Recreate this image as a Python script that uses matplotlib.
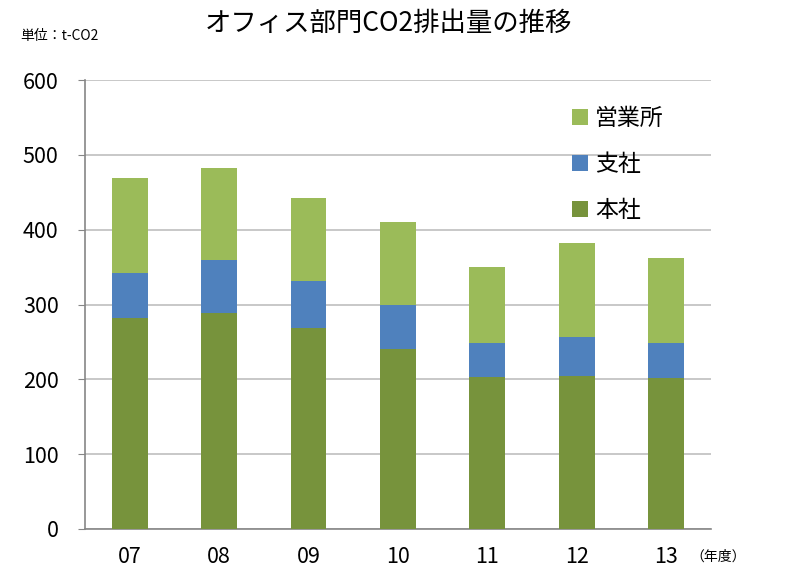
import matplotlib
matplotlib.use('Agg')
import matplotlib.pyplot as plt
import numpy as np

plt.rcParams['font.family'] = ['Noto Sans CJK JP', 'DejaVu Sans']

years = ['07', '08', '09', '10', '11', '12', '13']
honsha = [282, 288, 268, 240, 203, 205, 202]
shisha = [60, 71, 63, 59, 45, 51, 46]
eigyosho = [127, 124, 111, 111, 102, 126, 114]

c_honsha = '#77933c'
c_shisha = '#4f81bd'
c_eigyo = '#9bbb59'

fig = plt.figure(figsize=(7.89, 5.69), dpi=100)
ax = fig.add_axes([0.1077, 0.0703, 0.7933, 0.7891])

x = np.arange(len(years))
w = 0.40
b1 = ax.bar(x, honsha, w, color=c_honsha, label='本社', zorder=3)
b2 = ax.bar(x, shisha, w, bottom=honsha, color=c_shisha, label='支社', zorder=3)
bottom2 = [a + b for a, b in zip(honsha, shisha)]
b3 = ax.bar(x, eigyosho, w, bottom=bottom2, color=c_eigyo, label='営業所', zorder=3)

ax.set_xlim(-0.5, len(years) - 0.5)
ax.set_ylim(0, 600)
ax.set_yticks(range(0, 601, 100))
ax.set_xticks(x)
ax.set_xticklabels(years)
ax.yaxis.grid(True, color='#bfbfbf', linewidth=1.2, zorder=0)
ax.set_axisbelow(True)

for s in ['top', 'right']:
    ax.spines[s].set_visible(False)
ax.spines['left'].set_color('#868686')
ax.spines['bottom'].set_color('#868686')
ax.spines['left'].set_linewidth(1.2)
ax.spines['bottom'].set_linewidth(1.2)

ax.tick_params(axis='y', length=5, color='#868686', labelsize=15.5, pad=14)
ax.tick_params(axis='x', length=0, labelsize=15.5, pad=12)

leg = ax.legend(handles=[b3, b2, b1], loc='upper left', bbox_to_anchor=(0.745, 0.985),
                frameon=False, fontsize=16.5, handlelength=0.7, handleheight=0.7,
                handletextpad=0.3, labelspacing=1.0)

fig.text(0.492, 0.958, 'オフィス部門CO2排出量の推移', ha='center', va='center', fontsize=19)
fig.text(0.026, 0.937, '単位：t-CO2', ha='left', va='center', fontsize=10)
fig.text(0.945, 0.022, '（年度）', ha='right', va='center', fontsize=10)

fig.savefig('out.png', dpi=100)
